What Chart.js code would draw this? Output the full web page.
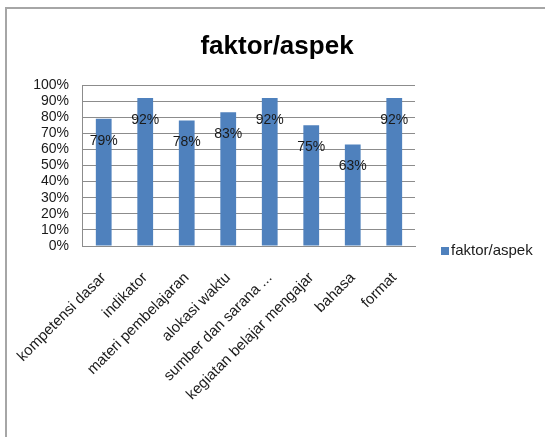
<!DOCTYPE html>
<html>
<head>
<meta charset="utf-8">
<script src="https://cdn.jsdelivr.net/npm/chart.js@4/dist/chart.umd.min.js"></script>
<style>
  html, body { margin: 0; padding: 0; background: #fff; }
</style>
</head>
<body>
<canvas id="myChart" width="545" height="437"></canvas>
<script>
const chartTitle = 'faktor/aspek';
const categories = ['kompetensi dasar', 'indikator', 'materi pembelajaran', 'alokasi waktu',
  'sumber dan sarana ...', 'kegiatan belajar mengajar', 'bahasa', 'format'];
const seriesName = 'faktor/aspek';
const values = [79, 92, 78, 83, 92, 75, 63, 92];
const yMin = 0;
const yMax = 100;
const yStep = 10;

const FONT = "'Liberation Sans', Arial, sans-serif";
const BAR = '#4F81BD';
const GRID = '#8c8c8c';
const TEXT = '#1a1a1a';

// white bg, frame lines (left + top) and the title over the whole width
const framePlugin = {
  id: 'frame',
  beforeDraw(chart) {
    const ctx = chart.ctx;
    ctx.save();
    ctx.fillStyle = '#fff';
    ctx.fillRect(0, 0, chart.width, chart.height);
    ctx.strokeStyle = '#a6a6a6';
    ctx.lineWidth = 2;
    ctx.beginPath();
    ctx.moveTo(6, chart.height);
    ctx.lineTo(6, 8);
    ctx.lineTo(chart.width, 8);
    ctx.stroke();
    ctx.font = 'bold 26px ' + FONT;
    ctx.fillStyle = '#000';
    ctx.textAlign = 'center';
    ctx.textBaseline = 'middle';
    ctx.fillText(chartTitle, 277, 47);
    ctx.restore();
  }
};

// value labels inside the bars
const valueLabels = {
  id: 'valueLabels',
  afterDatasetsDraw(chart) {
    const ctx = chart.ctx;
    const meta = chart.getDatasetMeta(0);
    ctx.save();
    ctx.font = '14px ' + FONT;
    ctx.fillStyle = TEXT;
    ctx.textAlign = 'center';
    ctx.textBaseline = 'middle';
    meta.data.forEach((bar, i) => {
      ctx.fillText(chart.data.datasets[0].data[i] + '%', bar.x, bar.y + 22);
    });
    ctx.restore();
  }
};

// legend on the right, vertically centred on the whole chart
const sideLegend = {
  id: 'sideLegend',
  afterDraw(chart) {
    const ctx = chart.ctx;
    const ds = chart.data.datasets[0];
    ctx.save();
    ctx.fillStyle = ds.backgroundColor;
    ctx.fillRect(441, 247, 8, 8);
    ctx.font = '15px ' + FONT;
    ctx.fillStyle = TEXT;
    ctx.textAlign = 'left';
    ctx.textBaseline = 'middle';
    ctx.fillText(ds.label, 451, 251);
    ctx.restore();
  }
};

const ctx = document.getElementById('myChart');
new Chart(ctx, {
  type: 'bar',
  data: {
    labels: categories,
    datasets: [{
      label: seriesName,
      data: values,
      backgroundColor: BAR,
      borderWidth: 0,
      categoryPercentage: 1,
      barPercentage: 0.38
    }]
  },
  options: {
    responsive: false,
    devicePixelRatio: 1,
    animation: false,
    layout: { padding: { left: 0, right: 130, top: 85, bottom: 0 } },
    plugins: {
      legend: { display: false },
      tooltip: { enabled: false },
      title: { display: false }
    },
    scales: {
      x: {
        grid: { display: false },
        border: { display: true, color: GRID, width: 1 },
        ticks: {
          color: TEXT,
          font: { family: FONT, size: 15 },
          minRotation: 45,
          maxRotation: 45,
          autoSkip: false,
          padding: 15
        },
        afterFit(scale) { scale.height = 191; }
      },
      y: {
        min: yMin,
        max: yMax,
        grid: { color: GRID, drawTicks: false },
        border: { display: true, color: GRID, width: 1 },
        ticks: {
          stepSize: yStep,
          autoSkip: false,
          color: TEXT,
          font: { family: FONT, size: 14 },
          padding: 14,
          callback: v => v + '%'
        },
        afterFit(scale) { scale.width = 80; }
      }
    }
  },
  plugins: [framePlugin, valueLabels, sideLegend]
});
</script>
</body>
</html>
